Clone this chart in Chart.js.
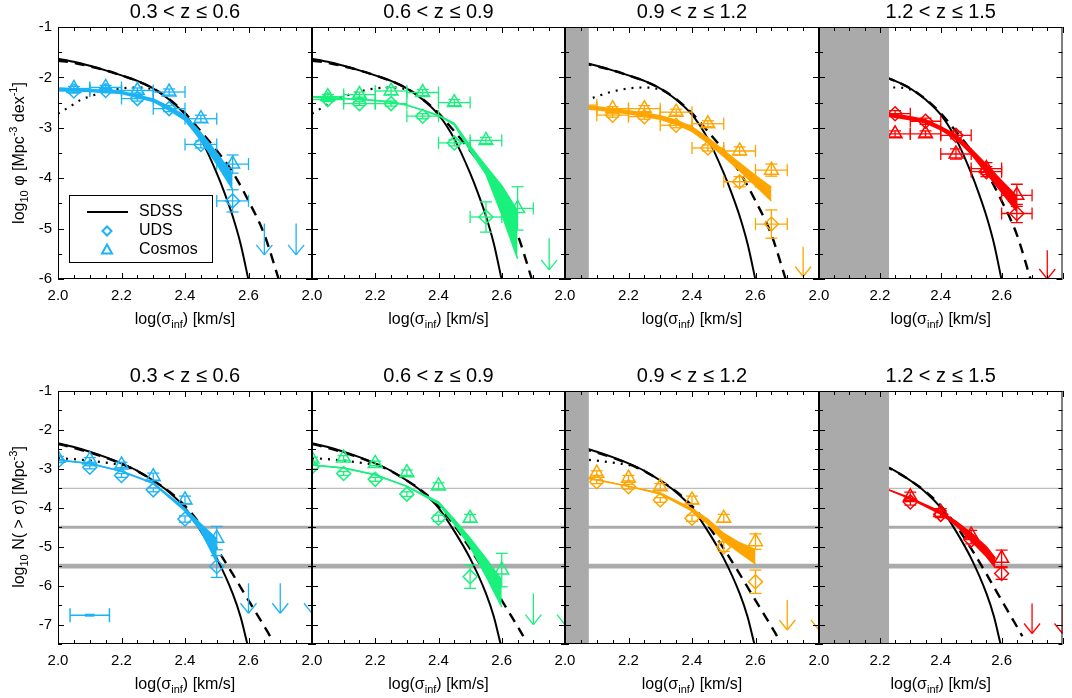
<!DOCTYPE html>
<html>
<head>
<meta charset="utf-8">
<script src="https://cdn.jsdelivr.net/npm/chart.js@4.4.0/dist/chart.umd.min.js"></script>
<style>
  html, body { margin: 0; padding: 0; background: #fff; }
  #wrap { position: relative; width: 1072px; height: 698px; overflow: hidden; background: #fff; }
  #wrap canvas { position: absolute; }
</style>
</head>
<body>
<div id="wrap"></div>
<script>
// ---- redshift bins ----
const zTitles = ['0.3 < z \u2264 0.6', '0.6 < z \u2264 0.9', '0.9 < z \u2264 1.2', '1.2 < z \u2264 1.5'];
const binColors = ['#1cb3f5', '#1af07c', '#ffa500', '#ff0000'];
const maskMax = [null, null, 2.075, 2.23];   // grey incompleteness region (log sigma)

// ---- SDSS reference, differential (top row) ----
const sdssPhiX = [2.0, 2.05, 2.1, 2.15, 2.2, 2.25, 2.3, 2.35, 2.4, 2.45, 2.5, 2.525, 2.55, 2.575, 2.6];
const sdssPhiY = [-1.63, -1.69, -1.77, -1.86, -1.96, -2.07, -2.22, -2.44, -2.74, -3.22, -3.9, -4.3, -4.75, -5.3, -6.02];
const sdssPhiDashX = [2.0, 2.05, 2.1, 2.15, 2.2, 2.25, 2.3, 2.35, 2.4, 2.45, 2.5, 2.55, 2.6, 2.65, 2.695];
const sdssPhiDashY = [-1.67, -1.71, -1.78, -1.86, -1.96, -2.07, -2.22, -2.43, -2.71, -3.07, -3.45, -3.88, -4.45, -5.12, -6.0];
const sdssPhiDotX = [2.0, 2.04, 2.07, 2.1, 2.15, 2.2, 2.25, 2.3, 2.33];
const sdssPhiDotY = [-2.72, -2.57, -2.45, -2.38, -2.28, -2.22, -2.2, -2.24, -2.33];

// ---- SDSS reference, cumulative (bottom row) ----
const sdssCumX = [2.0, 2.05, 2.1, 2.15, 2.2, 2.25, 2.3, 2.35, 2.4, 2.45, 2.5, 2.55, 2.575, 2.597];
const sdssCumY = [-2.34, -2.44, -2.56, -2.7, -2.86, -3.05, -3.3, -3.6, -4.0, -4.6, -5.3, -6.2, -6.8, -7.52];
const sdssCumDashX = [2.0, 2.05, 2.1, 2.15, 2.2, 2.25, 2.3, 2.35, 2.4, 2.45, 2.5, 2.55, 2.6, 2.65, 2.668];
const sdssCumDashY = [-2.36, -2.46, -2.58, -2.71, -2.87, -3.06, -3.3, -3.58, -3.95, -4.45, -5.05, -5.7, -6.38, -7.05, -7.3];
const sdssCumDotX = [2.0, 2.05, 2.1, 2.15, 2.2, 2.25];
const sdssCumDotY = [-2.73, -2.75, -2.79, -2.84, -2.9, -3.04];

// ---- top row: log phi per bin ----
const phiBins = [2.05, 2.15, 2.25, 2.35, 2.45, 2.55, 2.65];
const phiBinHalf = 0.05;
const phiUds = [
  [-2.27, -2.26, -2.42, -2.62, -3.33, -4.45, null],
  [-2.44, -2.52, -2.52, -2.77, -3.30, -4.77, null],
  [-2.60, -2.75, -2.78, -2.95, -3.40, -4.07, -4.91],
  [-2.60, null, -2.72, -2.87, -3.15, -3.87, -4.70]
];
const phiUdsErr = [
  [0.04, 0.04, 0.05, 0.06, 0.07, 0.22, null],
  [0.04, 0.04, 0.05, 0.05, 0.06, 0.30, null],
  [0.04, 0.04, 0.05, 0.05, 0.06, 0.10, 0.28],
  [0.05, null, 0.06, 0.06, 0.07, 0.10, 0.18]
];
const phiCosmos = [
  [-2.22, -2.20, -2.26, -2.29, -2.82, -3.72, null],
  [-2.38, -2.34, -2.27, -2.30, -2.50, -3.25, -4.60],
  [-2.55, -2.62, -2.62, -2.69, -2.92, -3.46, -3.84],
  [-2.90, null, -3.12, -3.12, -3.52, -3.81, -4.34]
];
const phiCosmosErr = [
  [0.04, 0.04, 0.05, 0.06, 0.07, 0.18, null],
  [0.04, 0.05, 0.07, 0.06, 0.06, 0.06, 0.43],
  [0.04, 0.04, 0.06, 0.06, 0.06, 0.08, 0.12],
  [0.05, null, 0.06, 0.06, 0.10, 0.12, 0.22]
];
const phiLimitX = [[2.65, 2.75], [2.75], [2.75], [2.75]];
const phiLimitTop = [[-4.9, -4.9], [-5.19], [-5.36], [-5.43]];
const phiLimitTip = [[-5.52, -5.52], [-5.82], [-5.95], [-6.0]];
const phiFitX = [
  [2.0, 2.1, 2.2, 2.3, 2.35, 2.4, 2.45, 2.5, 2.55],
  [2.0, 2.1, 2.2, 2.25, 2.3, 2.35, 2.4, 2.45, 2.5, 2.55, 2.6, 2.65],
  [2.0, 2.1, 2.2, 2.3, 2.35, 2.4, 2.45, 2.5, 2.55, 2.6, 2.65],
  [2.2, 2.3, 2.35, 2.4, 2.45, 2.5, 2.55, 2.6, 2.65]
];
const phiFitHi = [
  [-2.21, -2.24, -2.28, -2.43, -2.58, -2.76, -3.1, -3.5, -3.92],
  [-2.39, -2.42, -2.46, -2.49, -2.55, -2.65, -2.75, -2.91, -3.36, -3.76, -4.15, -4.65],
  [-2.54, -2.58, -2.66, -2.76, -2.85, -2.98, -3.2, -3.45, -3.7, -3.95, -4.18],
  [-2.68, -2.78, -2.84, -2.98, -3.14, -3.42, -3.73, -4.05, -4.36]
];
const phiFitLo = [
  [-2.25, -2.28, -2.32, -2.48, -2.65, -2.85, -3.25, -3.72, -4.22],
  [-2.39, -2.42, -2.46, -2.49, -2.55, -2.65, -2.76, -2.94, -3.45, -3.92, -4.72, -5.6],
  [-2.6, -2.64, -2.72, -2.83, -2.93, -3.07, -3.3, -3.57, -3.85, -4.15, -4.45],
  [-2.74, -2.84, -2.9, -3.04, -3.22, -3.52, -3.9, -4.28, -4.66]
];

// ---- bottom row: log N(>sigma) ----
const cumBins = [2.0, 2.1, 2.2, 2.3, 2.4, 2.5, 2.6];
const cumUds = [
  [-2.80, -2.96, -3.17, -3.54, -4.29, -5.51, null],
  [-2.95, -3.12, -3.27, -3.65, -4.27, -5.77, null],
  [-3.20, -3.33, -3.46, -3.80, -4.27, -5.00, -5.90],
  [null, null, null, -3.85, -4.17, -4.83, -5.69]
];
const cumUdsErr = [
  [0.04, 0.04, 0.05, 0.05, 0.08, 0.28, null],
  [0.05, 0.05, 0.05, 0.06, 0.08, 0.30, null],
  [0.05, 0.05, 0.06, 0.06, 0.08, 0.12, 0.30],
  [null, null, null, 0.08, 0.08, 0.10, 0.15]
];
const cumCosmos = [
  [-2.73, -2.77, -2.90, -3.20, -3.80, -4.78, null],
  [-2.75, -2.72, -2.86, -3.10, -3.44, -4.27, -5.60],
  [-3.05, -3.11, -3.24, -3.46, -3.80, -4.27, -4.87],
  [null, null, null, -3.72, -4.12, -4.70, -5.30]
];
const cumCosmosErr = [
  [0.05, 0.06, 0.07, 0.09, 0.10, 0.30, null],
  [0.05, 0.06, 0.06, 0.07, 0.08, 0.10, 0.43],
  [0.05, 0.06, 0.07, 0.08, 0.10, 0.10, 0.20],
  [null, null, null, 0.12, 0.10, 0.12, 0.21]
];
const cumLimitX = [[2.6, 2.7, 2.8], [2.7, 2.8], [2.7, 2.8], [2.7, 2.8]];
const cumLimitTop = [[-5.94, -5.94, -5.94], [-6.2, -6.2], [-6.37, -6.37], [-6.46, -6.46]];
const cumLimitTip = [[-6.71, -6.71, -6.71], [-7.0, -7.0], [-7.14, -7.14], [-7.23, -7.23]];
const cumFitX = [
  [2.0, 2.1, 2.2, 2.3, 2.4, 2.45, 2.5],
  [2.0, 2.1, 2.2, 2.3, 2.4, 2.45, 2.5, 2.55, 2.6],
  [2.0, 2.1, 2.2, 2.3, 2.4, 2.45, 2.5, 2.55, 2.6],
  [2.2, 2.3, 2.4, 2.45, 2.5, 2.55, 2.58]
];
const cumFitHi = [
  [-2.77, -2.86, -3.06, -3.36, -4.02, -4.42, -4.8],
  [-2.9, -2.98, -3.15, -3.45, -3.85, -4.3, -4.78, -5.3, -5.86],
  [-3.15, -3.28, -3.45, -3.62, -4.02, -4.3, -4.66, -4.9, -5.08],
  [-3.45, -3.75, -4.1, -4.35, -4.65, -5.0, -5.3]
];
const cumFitLo = [
  [-2.77, -2.86, -3.06, -3.38, -4.08, -4.6, -5.4],
  [-2.9, -2.98, -3.15, -3.45, -3.9, -4.42, -5.0, -5.75, -6.55],
  [-3.15, -3.28, -3.45, -3.65, -4.08, -4.42, -4.85, -5.15, -5.44],
  [-3.45, -3.77, -4.16, -4.45, -4.85, -5.25, -5.55]
];
const cumLevels = [-3.5, -4.5, -5.5];          // grey reference levels
const sampleBarX = [2.1], sampleBarHalf = [0.062], sampleBarY = [-6.76];

// ---- layout ----
const FONT = '"Liberation Sans", Arial, Helvetica, sans-serif';
Chart.defaults.font.family = FONT;
Chart.defaults.color = '#000';

const plotLeft = [58, 312, 565, 819];
const plotWidth = [254, 253, 254, 253];
const rowTop = [27, 391];
const rowHeight = [252, 253];
const rowTopPad = [27, 30];
const rowBottomPad = [50, 54];

function toPts(xs, ys) {
  return xs.map((x, i) => ({ x: x, y: ys[i] })).filter(p => p.y != null);
}

function curveSet(xs, ys, dash, width) {
  return {
    data: toPts(xs, ys), showLine: true, borderColor: '#000', borderWidth: width,
    borderDash: dash, pointRadius: 0, fill: false, cubicInterpolationMode: 'monotone',
    clip: 0, order: 5
  };
}

function buildDatasets(row, col) {
  const c = binColors[col];
  const top = row === 0;
  const ds = [];
  ds.push(curveSet(top ? sdssPhiX : sdssCumX, top ? sdssPhiY : sdssCumY, [], 2));
  ds.push(curveSet(top ? sdssPhiDashX : sdssCumDashX, top ? sdssPhiDashY : sdssCumDashY, [10, 7], 2.4));
  ds.push(curveSet(top ? sdssPhiDotX : sdssCumDotX, top ? sdssPhiDotY : sdssCumDotY, [2, 6], 2.2));
  const fx = top ? phiFitX[col] : cumFitX[col];
  ds.push({
    data: toPts(fx, top ? phiFitHi[col] : cumFitHi[col]), showLine: true,
    borderColor: c, backgroundColor: c, borderWidth: 1.5, pointRadius: 0,
    fill: '+1', clip: 0, order: 3
  });
  ds.push({
    data: toPts(fx, top ? phiFitLo[col] : cumFitLo[col]), showLine: true,
    borderColor: c, borderWidth: 1.5, pointRadius: 0, fill: false, clip: 0, order: 3
  });
  const bins = top ? phiBins : cumBins;
  ds.push({
    data: toPts(bins, top ? phiUds[col] : cumUds[col]), showLine: false,
    pointStyle: 'rectRot', pointRadius: 7, pointBorderWidth: 1.5,
    pointBorderColor: c, pointBackgroundColor: 'rgba(0,0,0,0)', clip: 0, order: 1
  });
  ds.push({
    data: toPts(bins, top ? phiCosmos[col] : cumCosmos[col]), showLine: false,
    pointStyle: 'triangle', pointRadius: 8, pointBorderWidth: 1.5,
    pointBorderColor: c, pointBackgroundColor: 'rgba(0,0,0,0)', clip: 0, order: 1
  });
  return ds;
}

// text with sub / superscripts: parts = [[text, mode]], mode 0 normal, 1 sub, 2 sup
function drawRich(ctx, parts, cx, baseline, size) {
  const small = Math.round(size * 0.66);
  let total = 0;
  parts.forEach(([t, m]) => { ctx.font = (m ? small : size) + 'px ' + FONT; total += ctx.measureText(t).width; });
  let xx = cx - total / 2;
  ctx.textAlign = 'left';
  ctx.textBaseline = 'alphabetic';
  parts.forEach(([t, m]) => {
    ctx.font = (m ? small : size) + 'px ' + FONT;
    const dy = m === 1 ? size * 0.25 : (m === 2 ? -size * 0.42 : 0);
    ctx.fillText(t, xx, baseline + dy);
    xx += ctx.measureText(t).width;
  });
}

function makePanelPlugin(row, col) {
  const top = row === 0;
  return {
    id: 'panel' + row + col,
    beforeDatasetsDraw(chart) {
      if (top) return;
      const { ctx, chartArea: a, scales: { y } } = chart;
      ctx.save();
      const widths = [1.2, 3.2, 4.8];
      cumLevels.forEach((lv, i) => {
        const py = y.getPixelForValue(lv);
        ctx.strokeStyle = i === 0 ? '#bdbdbd' : '#ababab';
        ctx.lineWidth = widths[i];
        ctx.beginPath(); ctx.moveTo(a.left, py); ctx.lineTo(a.right, py); ctx.stroke();
      });
      ctx.restore();
    },
    afterDatasetsDraw(chart) {
      const { ctx, chartArea: a, scales: { x, y } } = chart;
      const c = binColors[col];
      const seg = (x1, y1, x2, y2) => { ctx.beginPath(); ctx.moveTo(x1, y1); ctx.lineTo(x2, y2); ctx.stroke(); };
      ctx.save();
      ctx.beginPath(); ctx.rect(a.left, a.top, a.right - a.left, a.bottom - a.top); ctx.clip();
      ctx.strokeStyle = c;
      ctx.lineWidth = 1.3;
      const bins = top ? phiBins : cumBins;
      const sets = top
        ? [[phiUds[col], phiUdsErr[col]], [phiCosmos[col], phiCosmosErr[col]]]
        : [[cumUds[col], cumUdsErr[col]], [cumCosmos[col], cumCosmosErr[col]]];
      const cap = 6;
      sets.forEach(([vals, errs]) => {
        bins.forEach((b, i) => {
          if (vals[i] == null) return;
          const px = x.getPixelForValue(b), py = y.getPixelForValue(vals[i]);
          const y1 = y.getPixelForValue(vals[i] + errs[i]), y2 = y.getPixelForValue(vals[i] - errs[i]);
          seg(px, y1, px, y2); seg(px - cap, y1, px + cap, y1); seg(px - cap, y2, px + cap, y2);
          if (top) {
            const x1 = x.getPixelForValue(b - phiBinHalf), x2 = x.getPixelForValue(b + phiBinHalf);
            seg(x1, py, x2, py); seg(x1, py - cap, x1, py + cap); seg(x2, py - cap, x2, py + cap);
          }
        });
      });
      // upper limits
      const lx = top ? phiLimitX[col] : cumLimitX[col];
      const lt = top ? phiLimitTop[col] : cumLimitTop[col];
      const lp = top ? phiLimitTip[col] : cumLimitTip[col];
      lx.forEach((v, i) => {
        const px = x.getPixelForValue(v), p1 = y.getPixelForValue(lt[i]), p2 = y.getPixelForValue(lp[i]);
        seg(px, p1, px, p2); seg(px - 8, p2 - 10, px, p2); seg(px + 8, p2 - 10, px, p2);
      });
      // typical uncertainty bar
      if (!top && col === 0) {
        sampleBarX.forEach((v, i) => {
          const x1 = x.getPixelForValue(v - sampleBarHalf[i]), x2 = x.getPixelForValue(v + sampleBarHalf[i]);
          const py = y.getPixelForValue(sampleBarY[i]);
          ctx.lineWidth = 1.5;
          seg(x1, py, x2, py); seg(x1, py - 7, x1, py + 7); seg(x2, py - 7, x2, py + 7);
          ctx.lineWidth = 3;
          seg(x.getPixelForValue(v - 0.015), py, x.getPixelForValue(v + 0.015), py);
        });
      }
      // grey masked region
      if (maskMax[col] != null) {
        ctx.fillStyle = '#aaaaaa';
        const xr = x.getPixelForValue(maskMax[col]);
        ctx.fillRect(a.left + 1, a.top, xr - a.left - 1, a.bottom - a.top);
      }
      ctx.restore();
    },
    afterDraw(chart) {
      const { ctx, chartArea: a, scales: { x, y } } = chart;
      ctx.save();
      ctx.strokeStyle = '#000';
      ctx.lineWidth = 1;
      ctx.strokeRect(a.left + 0.5, a.top + 0.5, a.right - a.left - 1, a.bottom - a.top - 1);
      const seg = (x1, y1, x2, y2) => { ctx.beginPath(); ctx.moveTo(x1, y1); ctx.lineTo(x2, y2); ctx.stroke(); };
      for (let i = 0; i <= 16; i++) {
        const px = Math.round(x.getPixelForValue(2 + i * 0.05)) + 0.5;
        const len = i % 4 === 0 ? 6 : 4;
        seg(px, a.bottom, px, a.bottom - len);
        seg(px, a.top, px, a.top + len);
      }
      const yMin = top ? -6 : -7.5;
      for (let v = yMin; v <= -1; v += 0.5) {
        const py = Math.round(y.getPixelForValue(v)) + 0.5;
        const len = Number.isInteger(v) ? 6 : 4;
        seg(a.left, py, a.left + len, py);
        seg(a.right, py, a.right - len, py);
      }
      ctx.fillStyle = '#000';
      // panel title
      ctx.font = '20px ' + FONT;
      ctx.textAlign = 'center';
      ctx.textBaseline = 'middle';
      ctx.fillText(zTitles[col], (a.left + a.right) / 2, a.top - 15);
      // x title
      drawRich(ctx, [['log(\u03c3', 0], ['inf', 1], [') [km/s]', 0]], (a.left + a.right) / 2, a.bottom + 45, 16);
      if (col === 0) {
        ctx.save();
        const cy = top ? 153 - rowTop[0] + rowTopPad[0] : 517 - rowTop[1] + rowTopPad[1];
        ctx.translate(18, cy);
        ctx.rotate(-Math.PI / 2);
        if (top) {
          drawRich(ctx, [['log', 0], ['10', 1], [' \u03c6 [Mpc', 0], ['-3', 2], [' dex', 0], ['-1', 2], [']', 0]], 0, 6, 16);
        } else {
          drawRich(ctx, [['log', 0], ['10', 1], [' N( > \u03c3) [Mpc', 0], ['-3', 2], [']', 0]], 0, 6, 16);
        }
        ctx.restore();
      }
      if (top && col === 0) {
        // legend
        const bx = a.left + 11, by = a.top + 168, bw = 143, bh = 67;
        ctx.fillStyle = '#fff';
        ctx.fillRect(bx, by, bw, bh);
        ctx.strokeStyle = '#000';
        ctx.lineWidth = 1;
        ctx.strokeRect(bx + 0.5, by + 0.5, bw, bh);
        ctx.lineWidth = 2.2;
        seg(bx + 18, by + 17, bx + 59, by + 17);
        const c = binColors[0];
        ctx.strokeStyle = c;
        ctx.lineWidth = 2;
        const dx = bx + 38, dy = by + 36;
        ctx.beginPath(); ctx.moveTo(dx, dy - 4.5); ctx.lineTo(dx + 4.5, dy); ctx.lineTo(dx, dy + 4.5); ctx.lineTo(dx - 4.5, dy); ctx.closePath(); ctx.stroke();
        const ty = by + 55;
        ctx.beginPath(); ctx.moveTo(dx, ty - 5.5); ctx.lineTo(dx + 5, ty + 3.5); ctx.lineTo(dx - 5, ty + 3.5); ctx.closePath(); ctx.stroke();
        ctx.fillStyle = '#000';
        ctx.font = '16px ' + FONT;
        ctx.textAlign = 'left';
        ctx.textBaseline = 'middle';
        ctx.fillText('SDSS', bx + 70, by + 17);
        ctx.fillText('UDS', bx + 70, by + 36);
        ctx.fillText('Cosmos', bx + 70, by + 55);
      }
      ctx.restore();
    }
  };
}

const wrap = document.getElementById('wrap');
for (let row = 0; row < 2; row++) {
  for (let col = 0; col < 4; col++) {
    const L = col === 0 ? 58 : 22;
    const R = col === 3 ? 0 : 22;
    const cv = document.createElement('canvas');
    cv.width = L + plotWidth[col] + R;
    cv.height = rowTopPad[row] + rowHeight[row] + rowBottomPad[row];
    cv.style.left = (plotLeft[col] - L) + 'px';
    cv.style.top = (rowTop[row] - rowTopPad[row]) + 'px';
    wrap.appendChild(cv);
    const B = rowBottomPad[row];
    new Chart(cv, {
      type: 'scatter',
      data: { datasets: buildDatasets(row, col) },
      options: {
        responsive: false,
        animation: false,
        devicePixelRatio: 1,
        events: [],
        layout: { padding: { left: col === 0 ? 0 : L, right: R, top: rowTopPad[row], bottom: 0 } },
        plugins: { legend: { display: false }, tooltip: { enabled: false }, title: { display: false } },
        scales: {
          x: {
            type: 'linear', min: 2.0, max: 2.8,
            afterFit: s => { s.height = B; },
            grid: { display: false, drawTicks: false },
            border: { display: false },
            ticks: {
              stepSize: 0.2, autoSkip: false, maxRotation: 0, padding: 8,
              font: { size: 15 }, color: '#000',
              callback: v => (v > 2.75 ? '' : Number(v).toFixed(1))
            }
          },
          y: {
            type: 'linear', min: row === 0 ? -6 : -7.5, max: -1,
            display: col === 0,
            afterFit: s => { if (col === 0) s.width = 58; },
            grid: { display: false, drawTicks: false },
            border: { display: false },
            ticks: {
              stepSize: 1, includeBounds: false, padding: 6,
              font: { size: 15 }, color: '#000',
              callback: v => (Number.isInteger(v) ? String(v) : '')
            }
          }
        }
      },
      plugins: [makePanelPlugin(row, col)]
    });
  }
}
</script>
</body>
</html>
